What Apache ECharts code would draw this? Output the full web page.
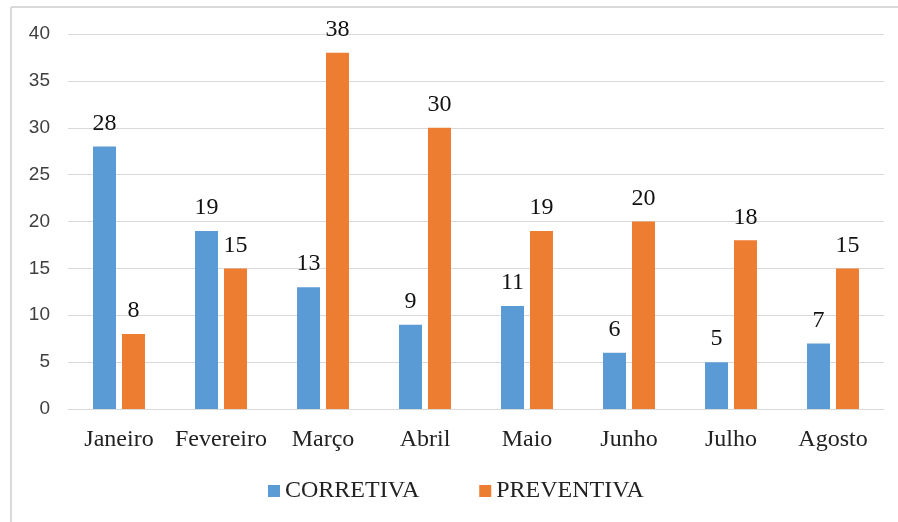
<!DOCTYPE html>
<html>
<head>
<meta charset="utf-8">
<script src="https://cdn.jsdelivr.net/npm/echarts@6/dist/echarts.min.js"></script>
<style>
	html, body { margin: 0; padding: 0; background: #fff; }
	#main { width: 898px; height: 522px; }
</style>
</head>
<body>
<div id="main"></div>
<script>
	// dados
	var meses = ['Janeiro', 'Fevereiro', 'Março', 'Abril', 'Maio', 'Junho', 'Julho', 'Agosto'];
	var corretiva = [28, 19, 13, 9, 11, 6, 5, 7];
	var preventiva = [8, 15, 38, 30, 19, 20, 18, 15];
	var yTicks = [0, 5, 10, 15, 20, 25, 30, 35, 40];

	var serif = '"Liberation Serif", "Times New Roman", serif';
	var sans = '"Liberation Sans", Arial, sans-serif';

	var myChart = echarts.init(document.getElementById('main'));
	var option = {
		animation: false,
		color: ['#5B9BD5', '#ED7D31'],
		grid: { left: 68, right: 14, top: 34, bottom: 113 },
		legend: {
			bottom: 14,
			left: 263,
			itemWidth: 12,
			itemHeight: 12,
			itemGap: 60,
			icon: 'rect',
			textStyle: { fontFamily: serif, fontSize: 24, color: '#222' },
			data: ['CORRETIVA', 'PREVENTIVA']
		},
		xAxis: {
			type: 'category',
			data: meses,
			axisTick: { show: false },
			axisLine: { lineStyle: { color: '#d9d9d9' } },
			axisLabel: { fontFamily: serif, fontSize: 24, color: '#222', margin: 19, interval: 0 }
		},
		yAxis: {
			type: 'value',
			min: yTicks[0],
			max: yTicks[yTicks.length - 1],
			interval: 5,
			axisLine: { show: false },
			axisTick: { show: false },
			splitLine: { lineStyle: { color: '#d9d9d9' } },
			axisLabel: { fontFamily: sans, fontSize: 19, color: '#404040', margin: 18 }
		},
		series: [
			{
				name: 'CORRETIVA',
				type: 'bar',
				data: corretiva,
				barWidth: 23,
				barGap: '26%',
				label: { show: true, position: 'top', distance: 11, fontFamily: serif, fontSize: 24, color: '#111' }
			},
			{
				name: 'PREVENTIVA',
				type: 'bar',
				data: preventiva,
				barWidth: 23,
				label: { show: true, position: 'top', distance: 11, fontFamily: serif, fontSize: 24, color: '#111' }
			}
		],
		graphic: [
			{ type: 'line', shape: { x1: 11, y1: 7, x2: 898, y2: 7 }, style: { stroke: '#d9d9d9', lineWidth: 2 } },
			{ type: 'line', shape: { x1: 11, y1: 7, x2: 11, y2: 522 }, style: { stroke: '#d9d9d9', lineWidth: 2 } }
		]
	};
	myChart.setOption(option);
</script>
</body>
</html>
